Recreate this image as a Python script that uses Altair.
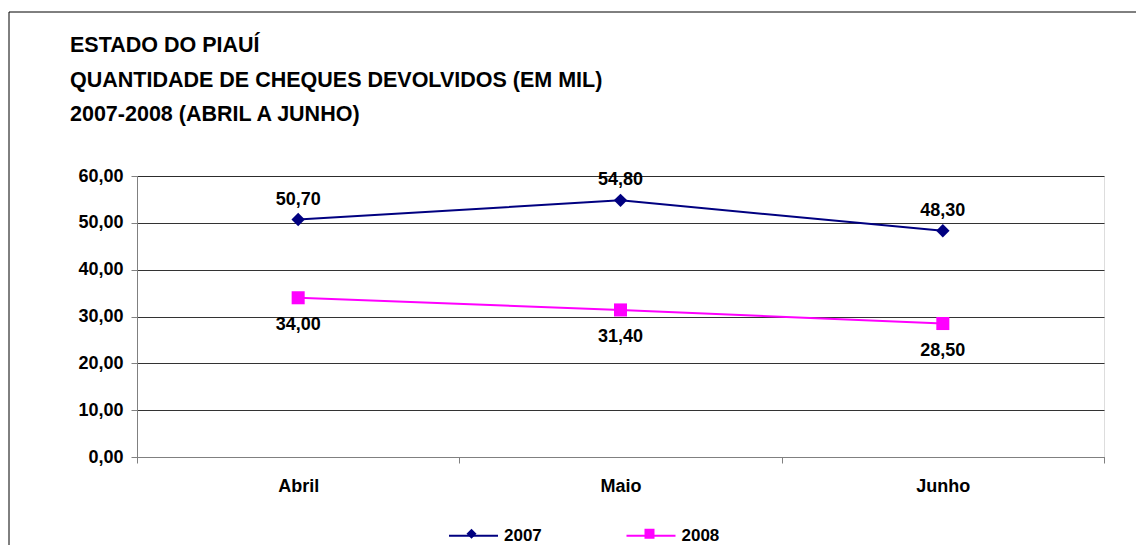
import altair as alt
import pandas as pd

meses = ["Abril", "Maio", "Junho"]
anos = ["2007", "2008"]
valores_2007 = [50.70, 54.80, 48.30]
valores_2008 = [34.00, 31.40, 28.50]
titulo = ["ESTADO DO PIAUÍ", "QUANTIDADE DE CHEQUES DEVOLVIDOS (EM MIL)", "2007-2008 (ABRIL A JUNHO)"]
y_ticks = [0, 10, 20, 30, 40, 50, 60]
cores = ["#000080", "#FF00FF"]

FONT = "Liberation Sans"

rows = []
for ano, vals in zip(anos, [valores_2007, valores_2008]):
    for m, v in zip(meses, vals):
        rows.append({"mes": m, "ano": ano, "valor": v})
df = pd.DataFrame(rows)

fmt = "replace(format(datum.valor, '.2f'), '.', ',')"

x_enc = alt.X(
    "mes:N", sort=meses,
    scale=alt.Scale(type="band", paddingInner=0, paddingOuter=0),
    axis=alt.Axis(title=None, tickBand="extent", labelAngle=0, grid=False,
                  tickSize=6, tickColor="#808080", domainColor="#808080",
                  labelFont=FONT, labelFontSize=18, labelFontWeight="bold",
                  labelColor="#000000", labelPadding=14),
)
y_enc = alt.Y(
    "valor:Q", scale=alt.Scale(domain=[0, 60], nice=False),
    axis=alt.Axis(title=None, values=y_ticks, grid=True, gridColor="#000000",
                  gridOpacity=0.8, tickSize=6, tickColor="#808080", domainColor="#808080",
                  labelExpr="replace(format(datum.value, '.2f'), '.', ',')",
                  labelFont=FONT, labelFontSize=18, labelFontWeight="bold",
                  labelColor="#000000", labelPadding=8),
)

base = alt.Chart(df)

# legend A: line strokes with labels
leg_linha = alt.Legend(
    orient="none", legendX=311, legendY=334, direction="horizontal", title=None,
    labelFont=FONT, labelFontSize=17, labelFontWeight="bold", labelColor="black",
    labelOffset=5, columnPadding=80.5, symbolType="stroke", symbolSize=2401,
    symbolStrokeWidth=2, symbolOpacity=1,
)
linhas = base.mark_line(strokeWidth=2).encode(
    x=x_enc, y=y_enc,
    color=alt.Color("ano:N", scale=alt.Scale(range=cores), legend=leg_linha),
)

pts_2007 = base.transform_filter("datum.ano == '2007'").mark_point(
    filled=True, opacity=1, shape="diamond", size=180, color=cores[0]
).encode(x=x_enc, y=y_enc)
pts_2008 = base.transform_filter("datum.ano == '2008'").mark_point(
    filled=True, opacity=1, shape="square", size=170, color=cores[1]
).encode(x=x_enc, y=y_enc)

txt_2007 = base.transform_filter("datum.ano == '2007'").transform_calculate(
    rotulo=fmt
).mark_text(font=FONT, fontSize=18, fontWeight="bold", color="black", dy=-20).encode(
    x=x_enc, y=y_enc, text="rotulo:N"
)
txt_2008 = base.transform_filter("datum.ano == '2008'").transform_calculate(
    rotulo=fmt
).mark_text(font=FONT, fontSize=18, fontWeight="bold", color="black", dy=27).encode(
    x=x_enc, y=y_enc, text="rotulo:N"
)

# legend B: marker shapes only (empty labels), overlaid on legend A
leg_marca = alt.Legend(
    orient="none", legendX=326, legendY=349, direction="horizontal", title=None,
    labelFont=FONT, labelFontSize=17, labelExpr="''",
    labelOffset=0, columnPadding=161, symbolStrokeWidth=0, symbolOpacity=1,
)
marcas = base.mark_point(filled=True, opacity=1, size=165).encode(
    x=alt.value(-5000), y=alt.value(-5000),
    fill=alt.Fill("ano:N", scale=alt.Scale(domain=anos, range=cores), legend=leg_marca),
    shape=alt.Shape("ano:N", scale=alt.Scale(domain=anos, range=["diamond", "square"]),
                    legend=leg_marca),
)

one = alt.Data(values=[{"k": 1}])
borda_topo = alt.Chart(one).mark_rule(color="black", strokeWidth=1).encode(
    x=alt.value(-128), x2=alt.value(999), y=alt.value(-164)
)
borda_esq = alt.Chart(one).mark_rule(color="black", strokeWidth=1).encode(
    x=alt.value(-128), y=alt.value(-164), y2=alt.value(369)
)

titulo_txt = alt.Chart(one).mark_text(
    text=titulo, font=FONT, fontSize=21.5, fontWeight="bold", color="black",
    align="left", baseline="top", lineHeight=34.5
).encode(x=alt.value(-67), y=alt.value(-141))

chart = alt.layer(
    borda_topo, borda_esq, titulo_txt, linhas, pts_2007, pts_2008, txt_2007, txt_2008, marcas
).properties(
    width=967, height=281, autosize="none",
    padding={"left": 129, "top": 168, "right": 32, "bottom": 88},
).configure_view(stroke="transparent").configure(background="white")

chart.save("out.html", embed_options={"renderer": "svg", "actions": False})
